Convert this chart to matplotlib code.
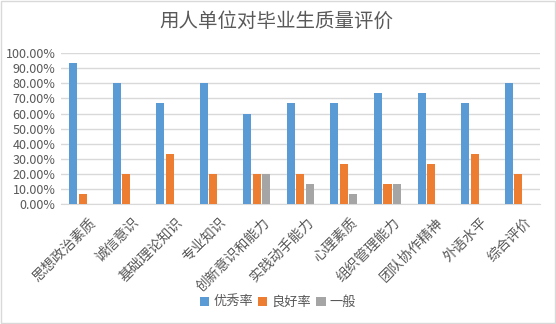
import numpy as np
import matplotlib
matplotlib.use('Agg')
import matplotlib.pyplot as plt
import matplotlib.transforms as mtransforms
from matplotlib.ticker import FuncFormatter
from matplotlib.patches import Rectangle

plt.rcParams['font.family'] = ['Noto Sans CJK SC', 'DejaVu Sans']

# Evaluation items and rates (%)
categories = ['思想政治素质', '诚信意识', '基础理论知识', '专业知识', '创新意识和能力',
              '实践动手能力', '心理素质', '组织管理能力', '团队协作精神', '外语水平', '综合评价']
excellent = [93.33, 80.00, 66.67, 80.00, 60.00, 66.67, 66.67, 73.33, 73.33, 66.67, 80.00]
good = [6.67, 20.00, 33.33, 20.00, 20.00, 20.00, 26.67, 13.33, 26.67, 33.33, 20.00]
average = [0, 0, 0, 0, 20.00, 13.33, 6.67, 13.33, 0, 0, 0]
series_names = ['优秀率', '良好率', '一般']
colors = ['#5B9BD5', '#ED7D31', '#A5A5A5']

text_color = '#595959'
grid_color = '#D9D9D9'

fig = plt.figure(figsize=(5.56, 3.24), dpi=100)
fig.patches.append(Rectangle((0.002, 0.003), 0.996, 0.994, transform=fig.transFigure,
                             fill=False, edgecolor='#D9D9D9', linewidth=1))
ax = fig.add_axes([0.1097, 0.370, 0.8613, 0.466])

x = np.arange(len(categories))
width = 0.184
step = 0.218
for i, (vals, name, c) in enumerate(zip([excellent, good, average], series_names, colors)):
    ax.bar(x + (i - 1) * step, vals, width=width, color=c, label=name, zorder=3)

ax.set_xlim(-0.5, len(categories) - 0.5)
ax.set_ylim(0, 100)
ax.set_yticks(np.arange(0, 101, 10))
ax.yaxis.set_major_formatter(FuncFormatter(lambda v, p: f'{v:.2f}%'))
ax.grid(axis='y', color=grid_color, linewidth=1, zorder=0)
for s in ['top', 'right', 'left']:
    ax.spines[s].set_visible(False)
ax.spines['bottom'].set_color(grid_color)
ax.tick_params(axis='both', length=0, colors=text_color, labelsize=9)
ax.tick_params(axis='y', pad=4)

# rotated category labels, nudged a little to the right
ax.set_xticks(x)
ax.set_xticklabels(categories, rotation=45, ha='right', va='top',
                   rotation_mode='anchor', fontsize=10, color=text_color)
ax.tick_params(axis='x', pad=8)
shift = mtransforms.ScaledTranslation(4 / 72, 0, fig.dpi_scale_trans)
for lbl in ax.get_xticklabels():
    lbl.set_transform(lbl.get_transform() + shift)

fig.text(0.497, 0.935, '用人单位对毕业生质量评价', ha='center', va='center',
         fontsize=14, color=text_color)

ax.legend(loc='center', bbox_to_anchor=(0.5, 0.066), bbox_transform=fig.transFigure,
          ncol=3, frameon=False, fontsize=9.5, handlelength=0.7, handleheight=0.7,
          handletextpad=0.3, columnspacing=0.4, labelcolor=text_color)

fig.savefig('out.png', dpi=100)
